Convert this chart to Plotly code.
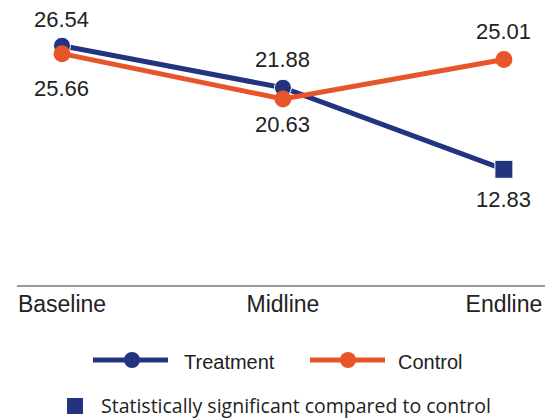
import plotly.graph_objects as go

categories = ["Baseline", "Midline", "Endline"]
treatment = [26.54, 21.88, 12.83]
control = [25.66, 20.63, 25.01]
treatment_symbols = ["circle", "circle", "square"]

# label offsets in pixels (styling only): positive = above the point
treatment_label_shift = [26, 28, -30]
control_label_shift = [-35, -25, 28]

NAVY = "#22337f"
ORANGE = "#e9552b"
TXT = "#222222"
NUMFONT = dict(family="Liberation Sans, Arial, sans-serif", size=22, color=TXT)

fig = go.Figure()
fig.add_trace(go.Scatter(
    x=categories, y=treatment, mode="lines+markers", name="Treatment",
    line=dict(color=NAVY, width=5),
    marker=dict(color=NAVY, size=[17, 17, 18], symbol=treatment_symbols, opacity=1),
    cliponaxis=False, showlegend=False,
))
fig.add_trace(go.Scatter(
    x=categories, y=control, mode="lines+markers", name="Control",
    line=dict(color=ORANGE, width=5),
    marker=dict(color=ORANGE, size=17, symbol="circle", opacity=1),
    cliponaxis=False, showlegend=False,
))

W, H = 555, 420
L, R, T, B = 17, 10, 0, 135

annotations = []
for cat, v, s in zip(categories, treatment, treatment_label_shift):
    annotations.append(dict(x=cat, y=v, xref="x", yref="y", text=f"{v:.2f}", showarrow=False,
                            yshift=s, xanchor="center", yanchor="middle", font=NUMFONT))
for cat, v, s in zip(categories, control, control_label_shift):
    annotations.append(dict(x=cat, y=v, xref="x", yref="y", text=f"{v:.2f}", showarrow=False,
                            yshift=s, xanchor="center", yanchor="middle", font=NUMFONT))


def pxr(xpix):
    return (xpix - L) / (W - L - R)


def pyr(ypix):
    return (H - B - ypix) / (H - T - B)


shapes = [
    dict(type="line", xref="paper", yref="paper", x0=pxr(93), x1=pxr(168), y0=pyr(360), y1=pyr(360),
         line=dict(color=NAVY, width=5)),
    dict(type="circle", xref="paper", yref="paper", x0=pxr(124), x1=pxr(140), y0=pyr(352), y1=pyr(368),
         fillcolor=NAVY, line=dict(width=0)),
    dict(type="line", xref="paper", yref="paper", x0=pxr(310), x1=pxr(385), y0=pyr(360), y1=pyr(360),
         line=dict(color=ORANGE, width=5)),
    dict(type="circle", xref="paper", yref="paper", x0=pxr(340), x1=pxr(356), y0=pyr(352), y1=pyr(368),
         fillcolor=ORANGE, line=dict(width=0)),
    dict(type="rect", xref="paper", yref="paper", x0=pxr(67), x1=pxr(83), y0=pyr(398), y1=pyr(414),
         fillcolor=NAVY, line=dict(width=0)),
]
LEGFONT = dict(family="Liberation Sans, Arial, sans-serif", size=20, color=TXT)
annotations += [
    dict(text="Treatment", xref="paper", yref="paper", x=pxr(182), y=pyr(362), xanchor="left", yanchor="middle",
         showarrow=False, font=LEGFONT),
    dict(text="Control", xref="paper", yref="paper", x=pxr(396), y=pyr(362), xanchor="left", yanchor="middle",
         showarrow=False, font=LEGFONT),
    dict(text="Statistically significant compared to control", xref="paper", yref="paper", x=pxr(99), y=pyr(405),
         xanchor="left", yanchor="middle", showarrow=False,
         font=dict(family="Open Sans, Noto Sans, sans-serif", size=19.5, color=TXT)),
]

fig.update_layout(
    width=W, height=H, margin=dict(l=L, r=R, t=T, b=B),
    paper_bgcolor="white", plot_bgcolor="white",
    xaxis=dict(range=[-0.2036, 2.186], showgrid=False, zeroline=False,
               showline=True, linecolor="#999999", linewidth=2, ticks="",
               ticklabelstandoff=-3,
               tickfont=dict(family="Liberation Sans, Arial, sans-serif", size=23, color=TXT),
               fixedrange=True),
    yaxis=dict(range=[0, 31.61], visible=False, fixedrange=True),
    showlegend=False,
    shapes=shapes, annotations=annotations,
)

fig.write_html("out.html", config={"displayModeBar": False},
               post_script="document.body.style.margin='0';document.body.style.overflow='hidden';")
